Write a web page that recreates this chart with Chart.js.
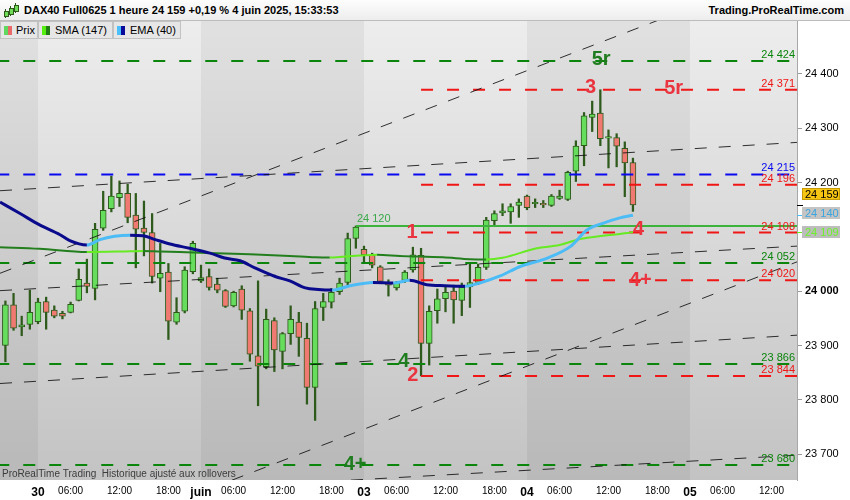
<!DOCTYPE html>
<html>
<head>
<meta charset="utf-8">
<script src="https://cdn.jsdelivr.net/npm/chart.js@4.4.1/dist/chart.umd.min.js"></script>
<style>
  body { margin: 0; background: #fff; }
  #box { position: relative; width: 850px; height: 500px; overflow: hidden; font-family: "Liberation Sans", Arial, sans-serif; }
  #chart { position: absolute; left: 0; top: 0; }
  #head { position: absolute; left: 0; top: 0; width: 850px; height: 21px; box-sizing: border-box;
          background: linear-gradient(#fdfdfd, #ededed); border-bottom: 1px solid #bcbcbc;
          font-size: 11px; font-weight: bold; line-height: 20px; color: #000; }
  #head .t { position: absolute; left: 24px; top: 0; }
  #head .r { position: absolute; right: 6px; top: 0; }
  #head .c { position: absolute; width: 3px; background: #6fdc5a; border: 1px solid #2e5a1c; }
  #head .w { position: absolute; width: 1px; background: #2e5a1c; }
  .lg { position: absolute; top: 21px; height: 18px; box-sizing: border-box; background: #e6e6e6;
        border: 1px solid #c2c2c2; font-size: 11px; line-height: 16px; color: #000; }
  .lg i { position: absolute; top: 4px; width: 4px; height: 9px; }
  .lg span { position: absolute; top: 0; }
</style>
</head>
<body>
<div id="box">
  <canvas id="chart" width="850" height="500"></canvas>
  <div id="head">
    <div class="w" style="left:5px;top:9px;height:9px"></div><div class="c" style="left:4px;top:11px;height:4px"></div>
    <div class="w" style="left:10px;top:6px;height:10px"></div><div class="c" style="left:9px;top:8px;height:5px"></div>
    <div class="w" style="left:15px;top:3px;height:10px"></div><div class="c" style="left:14px;top:5px;height:5px"></div>
    <span class="t">DAX40 Full0625 1 heure 24 159 +0,19 % 4 juin 2025, 15:33:53</span>
    <span class="r">Trading.ProRealTime.com</span>
  </div>
  <div class="lg" style="left:0;width:38px"><i style="left:3px;background:#5fd85f"></i><i style="left:7px;background:#ea6a6a"></i><span style="left:15px">Prix</span></div>
  <div class="lg" style="left:38px;width:75px"><i style="left:3px;background:#55ee11"></i><i style="left:7px;background:#1f7d12"></i><span style="left:16px">SMA (147)</span></div>
  <div class="lg" style="left:113px;width:68px"><i style="left:3px;background:#4cc0ff"></i><i style="left:7px;background:#0a0a9a"></i><span style="left:16px">EMA (40)</span></div>
</div>
<script>
// hourly candles, one slot per trading hour (02:00-21:00), slot 0 = 29 May 18:00
const opens  = [23900,23975,23934,23939,23944,23981,23965,23959,23961,23983,24015,24005,24116,24152,24172,24180,24140,24116,24108,24024,
                24035,23943,23963,24036,24019,24027,24013,24001,23973,24004,23964,23881,23861,23946,23889,23922,23943,23913,23823,23970,
                23980,23999,24016,24097,24077,24066,24045,24015,24006,24020,24039,24066,23904,23964,23986,24000,23983,24008,24016,24044,
                24130,24144,24146,24158,24175,24161,24160,24158,24171,24169,24221,24268,24320,24328,24282,24283,24263,24237];
const highs  = [23982,23996,23954,24002,23987,23989,23973,23963,23980,24041,24059,24125,24184,24212,24203,24197,24180,24166,24143,24088,
                24051,23988,24045,24092,24048,24041,24024,24003,24000,24010,23968,24019,23967,23951,23924,23973,23961,23941,23981,23996,
                24005,24024,24107,24120,24083,24070,24047,24021,24018,24038,24081,24079,23973,24004,24010,24011,24015,24050,24050,24136,
                24148,24161,24161,24170,24177,24170,24167,24178,24186,24221,24277,24329,24350,24371,24297,24290,24275,24245];
const lows   = [23870,23928,23918,23930,23940,23930,23951,23949,23960,23982,23997,23984,24112,24146,24156,24126,24043,24065,24015,23999,
                23911,23939,23960,24032,24016,24002,23997,23970,23971,23948,23871,23789,23857,23852,23857,23902,23880,23792,23762,23946,
                23969,23994,24012,24079,24053,24043,24015,23991,24002,24016,24035,23844,23864,23941,23962,23941,23955,23970,24012,24040,
                24119,24139,24125,24136,24150,24154,24154,24156,24169,24167,24202,24231,24294,24268,24227,24229,24174,24147];
const closes = [23975,23932,23938,23961,23980,23961,23954,23954,23976,24022,24009,24114,24149,24175,24180,24136,24114,24108,24027,24033,
                23945,23961,24039,24088,24025,24007,24002,23972,23998,23965,23884,23862,23948,23892,23922,23948,23915,23823,23968,23981,
                23998,24015,24097,24118,24067,24048,24018,24011,24015,24035,24067,23904,23963,23986,23998,23984,24007,24016,24044,24131,
                24143,24148,24156,24164,24154,24162,24159,24175,24175,24219,24267,24323,24326,24281,24283,24267,24236,24159];

// EMA (40) and SMA (147) (slot, value)
const emaSlots  = [-0.66,1.8,4.2,6.7,7.9,10,11.6,13.4,15.3,16.9,18.4,20.2,22.6,25.1,26.9,28.8,30.6,33.1,34.9,36.8,38.4,40.1,42.3,45.1,47.6,49.6,51.7,53.9,56.4,58.2,60.7,63.1,66.5,69.3,71.4,73.3,75.4,77];
const emaValues = [24164,24143,24122,24104,24093,24085,24095,24101,24103,24102,24095,24087,24079,24070,24061,24056,24043,24027,24019,24006,24003,24002,24010,24016,24015,24020,24012,24010,24009,24015,24028,24045,24061,24082,24113,24125,24135,24140];
const smaSlots  = [-0.66,4.2,10,15.3,16.9,19,23.9,30,34.9,38,39.8,41.7,43.5,45.6,48.4,53.7,57,59,61,65.2,68,70.5,73.3,76.3,77];
const smaValues = [24081,24078,24072,24073.5,24074,24073,24071,24068,24065,24062.5,24062,24064,24065.5,24067,24065,24062.5,24059,24058.5,24061.5,24079,24085,24096,24102,24107,24109];

// horizontal levels
const levelValues = [24424,24371,24215,24196,24120,24108,24052,24020,23866,23844,23680];
const levelFrom   = [-1,51,-1,51,43,51,-1,51,-1,51,-1];
const levelKinds  = ['g','r','b','r','s','r','g','r','g','r','g'];

// dashed trend lines [slot, value] -> [slot, value]
const trendFrom = [[-0.66,24185],[-0.66,24033],[-0.66,24001],[-0.66,23830],[27.8,23652],[42.4,23652]];
const trendTo   = [[97.13,24274],[80.1,24499],[97.13,24083],[97.13,23919],[97.13,24054],[97.13,23698]];

// marks written on the chart
const noteTexts  = ['5r','5r','3','1','4','4+','4','2','4+','24 120'];
const noteSlots  = [73.1,82.0,71.8,49.9,77.7,77.9,48.9,50.0,42.9,45.2];
const noteValues = [24426,24374,24376,24109,24113,24019,23870,23844,23680,24133];
const noteKinds  = ['g','r','r','r','r','r','g','r','g','s'];

// axes
const tickSlots  = [4,8,14,20,24,28,34,40,44,48,54,60,64,68,74,80,84,88,94];
const tickLabels = ['30','06:00','12:00','18:00','juin','06:00','12:00','18:00','03','06:00','12:00','18:00','04','06:00','12:00','18:00','05','06:00','12:00'];
const daySlots   = [4,24,44,64,84];
const yTicks     = [23700,23800,23900,24000,24200,24300,24400];

const X_MIN = -0.663, X_MAX = 97.13, Y_MIN = 23652.3, Y_MAX = 24499.4;

const WICK = '#2e5a1c', UP = '#66dd5c', DOWN = '#f07a72';
const EMA_UP = '#4cbcf6', EMA_DN = '#0a0a8c', SMA_UP = '#66ea22', SMA_DN = '#237f1d';
const LV = { g: '#0b850b', r: '#f01616', b: '#0a0af0', s: '#3cb43c' };
const NOTE = { g: '#1f7d1f', r: '#ea3540', s: '#3aa84a' };

const fmt = v => String(Math.round(v)).replace(/\B(?=(\d{3})+(?!\d))/g, ' ');
const FONT = '"Liberation Sans", Arial, sans-serif';

const datasets = [];
datasets.push({
  type: 'bar', order: 20, grouped: false, barThickness: 1.6, backgroundColor: WICK,
  data: opens.map((o, i) => ({ x: i, y: [lows[i], highs[i]] }))
});
datasets.push({
  type: 'bar', order: 19, grouped: false, barThickness: 6, borderWidth: 1, borderSkipped: false,
  borderColor: WICK, minBarLength: 1.5,
  backgroundColor: opens.map((o, i) => closes[i] >= o ? UP : DOWN),
  data: opens.map((o, i) => ({ x: i, y: [o, closes[i]] }))
});
levelValues.forEach((v, i) => {
  const k = levelKinds[i];
  datasets.push({
    type: 'line', order: 10, borderColor: LV[k], borderWidth: 2, pointRadius: 0,
    borderDash: k === 's' ? [] : [12, 14],
    data: [{ x: levelFrom[i], y: v }, { x: X_MAX, y: v }]
  });
});
trendFrom.forEach((p, i) => {
  datasets.push({
    type: 'line', order: 9, borderColor: 'rgba(15,15,15,0.85)', borderWidth: 1, pointRadius: 0,
    borderDash: [12, 12],
    data: [{ x: p[0], y: p[1] }, { x: trendTo[i][0], y: trendTo[i][1] }]
  });
});
datasets.push({
  type: 'line', order: 2, borderWidth: 2, pointRadius: 0, cubicInterpolationMode: 'monotone',
  borderColor: SMA_DN,
  segment: { borderColor: c => c.p1.parsed.y > c.p0.parsed.y ? SMA_UP : SMA_DN },
  data: smaSlots.map((s, i) => ({ x: s, y: smaValues[i] }))
});
datasets.push({
  type: 'line', order: 1, borderWidth: 3, pointRadius: 0, cubicInterpolationMode: 'monotone',
  borderColor: EMA_DN,
  segment: { borderColor: c => c.p1.parsed.y > c.p0.parsed.y ? EMA_UP : EMA_DN },
  data: emaSlots.map((s, i) => ({ x: s, y: emaValues[i] }))
});

const bgPlugin = {
  id: 'bg',
  beforeDraw(chart) {
    const { ctx, chartArea: a, scales: { x } } = chart;
    ctx.save();
    ctx.fillStyle = '#fff';
    ctx.fillRect(0, 0, chart.width, chart.height);
    const g = ctx.createLinearGradient(0, a.top, 0, a.bottom);
    g.addColorStop(0, '#ededed');
    g.addColorStop(1, '#c3c3c3');
    ctx.fillStyle = g;
    ctx.fillRect(a.left, a.top, a.right - a.left, a.bottom - a.top);
    // alternate day shading
    const edges = [X_MIN].concat(daySlots, [X_MAX]);
    ctx.fillStyle = 'rgba(0,0,0,0.05)';
    for (let i = 0; i < edges.length - 1; i += 2) {
      const x0 = x.getPixelForValue(edges[i]), x1 = x.getPixelForValue(edges[i + 1]);
      ctx.fillRect(x0, a.top, x1 - x0, a.bottom - a.top);
    }
    ctx.fillStyle = '#3c3c3c';
    ctx.font = '10px ' + FONT;
    ctx.textBaseline = 'alphabetic';
    ctx.fillText('ProRealTime Trading  Historique ajusté aux rollovers', 2, a.bottom - 3);
    ctx.restore();
  },
  afterDatasetsDraw(chart) {
    const { ctx, chartArea: a, scales: { x, y } } = chart;
    ctx.save();
    // level values at the right end of each line
    ctx.font = '11px ' + FONT;
    ctx.textAlign = 'right';
    ctx.textBaseline = 'alphabetic';
    levelValues.forEach((v, i) => {
      if (levelKinds[i] === 's') return;
      ctx.fillStyle = LV[levelKinds[i]];
      ctx.fillText(fmt(v), a.right - 2, y.getPixelForValue(v) - 3);
    });
    // marks
    ctx.textAlign = 'center';
    ctx.textBaseline = 'middle';
    noteTexts.forEach((t, i) => {
      const k = noteKinds[i];
      ctx.font = k === 's' ? '11px ' + FONT : 'bold 20px ' + FONT;
      ctx.fillStyle = NOTE[k];
      ctx.fillText(t, x.getPixelForValue(noteSlots[i]), y.getPixelForValue(noteValues[i]));
    });
    ctx.restore();
  },
  afterDraw(chart) {
    const { ctx, chartArea: a, scales: { y } } = chart;
    const last = closes.length - 1;
    const tags = [
      { v: smaValues[smaValues.length - 1], bg: '#bdbdbd', fg: '#6cf02a', tick: SMA_UP },
      { v: emaValues[emaValues.length - 1], bg: '#c4c4c4', fg: '#3aa6e0', tick: EMA_UP },
      { v: closes[last], bg: '#f6c412', fg: '#000', tick: '#000' }
    ];
    let prev = null;
    ctx.save();
    ctx.font = '11px ' + FONT;
    ctx.textAlign = 'left';
    ctx.textBaseline = 'middle';
    tags.forEach(t => {
      const py = y.getPixelForValue(t.v);
      let cy = py;
      if (prev !== null && prev - cy < 17) cy = prev - 19;
      prev = cy;
      ctx.fillStyle = t.tick;
      ctx.fillRect(a.right, Math.round(py), 6, 1);
      ctx.fillStyle = t.bg;
      ctx.fillRect(a.right + 5, cy - 6, 38, 12);
      if (t.fg === '#000') { ctx.strokeStyle = '#c69a00'; ctx.strokeRect(a.right + 5.5, cy - 5.5, 37, 11); }
      ctx.fillStyle = t.fg;
      ctx.fillText(fmt(t.v), a.right + 8, cy + 0.5);
    });
    ctx.restore();
  }
};

new Chart(document.getElementById('chart'), {
  type: 'bar',
  data: { datasets },
  plugins: [bgPlugin],
  options: {
    responsive: false,
    animation: false,
    layout: { padding: { top: 20, left: 0, right: 0, bottom: 0 } },
    plugins: { legend: { display: false }, tooltip: { enabled: false } },
    scales: {
      x: {
        type: 'linear', min: X_MIN, max: X_MAX, offset: false,
        grid: { display: false, drawTicks: false }, border: { display: false },
        afterBuildTicks: s => { s.ticks = tickSlots.map(v => ({ value: v })); },
        afterFit: s => { s.height = 20; },
        ticks: {
          autoSkip: false, maxRotation: 0, padding: 5, color: '#000',
          callback: (v, i) => tickLabels[i],
          font: c => daySlots.includes(c.tick && c.tick.value)
            ? { family: FONT, size: 12, weight: 'bold' } : { family: FONT, size: 10 }
        }
      },
      y: {
        position: 'right', min: Y_MIN, max: Y_MAX,
        grid: { drawOnChartArea: false, tickLength: 5, color: '#9a9a9a' },
        border: { color: '#a8a8a8' },
        afterBuildTicks: s => { s.ticks = yTicks.map(v => ({ value: v })); },
        afterFit: s => { s.width = 53; },
        ticks: {
          padding: 3, color: '#000',
          callback: v => fmt(v),
          font: c => ({ family: FONT, size: 11, weight: c.tick && c.tick.value === 24000 ? 'bold' : 'normal' })
        }
      }
    }
  }
});
</script>
</body>
</html>
